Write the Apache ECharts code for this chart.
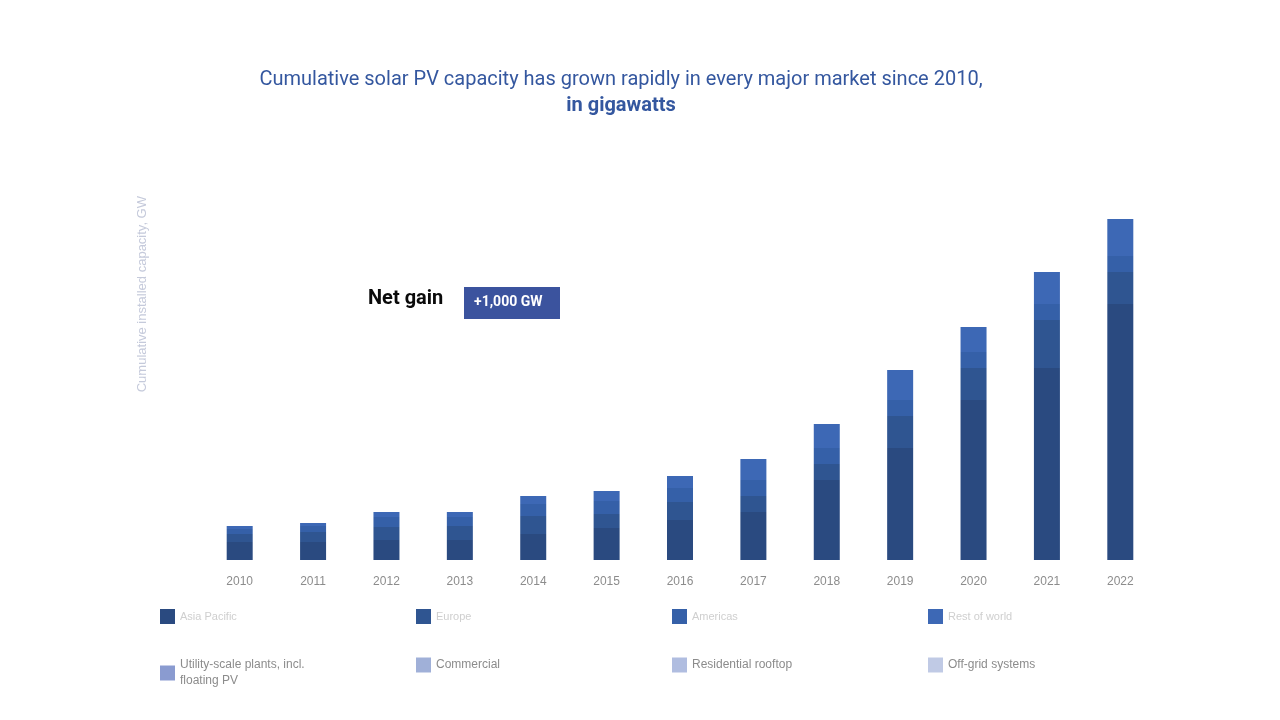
<!DOCTYPE html>
<html>
<head>
<meta charset="utf-8">
<title>Solar PV capacity</title>
<script src="https://cdn.jsdelivr.net/npm/echarts@6/dist/echarts.min.js"></script>
<style>
html, body { margin: 0; padding: 0; background: #fff; }
#charts { width: 1280px; height: 720px; }
</style>
</head>
<body>
<div id="charts"></div>
<script>
var years = ['2010', '2011', '2012', '2013', '2014', '2015', '2016', '2017', '2018', '2019', '2020', '2021', '2022'];

// GW (bottom to top)
var asiaPacific = [54, 54, 60, 60, 78, 96, 120, 144, 240, 336, 480, 576, 768];
var europe = [24, 30, 39, 42, 54, 42, 54, 48, 48, 96, 96, 144, 96];
var americas = [15, 18, 30, 27, 36, 39, 42, 48, 48, 48, 48, 48, 48];
var restOfWorld = [9, 9, 15, 15, 24, 30, 36, 63, 72, 90, 75, 96, 111];

var mainNames = ['Asia Pacific', 'Europe', 'Americas', 'Rest of world'];
var mainColors = ['#2a4a80', '#2f5591', '#3560a8', '#3d68b5'];
var noteNames = ['Utility-scale plants, incl.\nfloating PV', 'Commercial', 'Residential rooftop', 'Off-grid systems'];
var noteColors = ['#8a9bd0', '#a0b0d8', '#b0bde0', '#c0cae5'];

function render() {
    var myChart = echarts.init(document.getElementById('charts'));
    var values = [asiaPacific, europe, americas, restOfWorld];

    var series = [];
    var legends = [];
    for (var i = 0; i < 4; i++) {
        series.push({
            name: mainNames[i],
            type: 'bar',
            stack: 'total',
            barWidth: 26,
            itemStyle: { color: mainColors[i] },
            data: values[i]
        });
        legends.push({
            left: 160 + 256 * i,
            top: 609,
            padding: 0,
            itemWidth: 15,
            itemHeight: 15,
            icon: 'rect',
            textStyle: { color: '#cfcfcf', fontSize: 11 },
            data: [mainNames[i]]
        });
    }
    // legend-only entries, nothing drawn in the bars
    for (var j = 0; j < 4; j++) {
        series.push({
            name: noteNames[j],
            type: 'bar',
            stack: 'total',
            barWidth: 26,
            itemStyle: { color: noteColors[j] },
            data: years.map(function() { return '-'; })
        });
        legends.push({
            left: 160 + 256 * j,
            top: 657,
            padding: 0,
            itemWidth: 15,
            itemHeight: 15,
            icon: 'rect',
            textStyle: { color: '#8c8c8c', fontSize: 12, lineHeight: 16 },
            data: [noteNames[j]]
        });
    }

    var option = {
        animation: false,
        title: {
            text: '{a|Cumulative solar PV capacity has grown rapidly in every major market since 2010,}\n{b|in gigawatts}',
            left: 616,
            textAlign: 'center',
            top: 62,
            textStyle: {
                rich: {
                    a: { color: '#34579f', fontSize: 20, fontWeight: 'normal', fontFamily: 'Roboto', lineHeight: 26 },
                    b: { color: '#34579f', fontSize: 20, fontWeight: 'bold', fontFamily: 'Roboto', lineHeight: 26 }
                }
            }
        },
        legend: legends,
        grid: {
            left: 203,
            right: 123,
            top: 160,
            bottom: 160
        },
        xAxis: {
            type: 'category',
            data: years,
            axisLine: { show: false },
            axisTick: { show: false },
            axisLabel: { color: '#8c8c8c', fontSize: 12, margin: 16 }
        },
        yAxis: {
            type: 'value',
            min: 0,
            max: 1200,
            show: false
        },
        graphic: [{
            type: 'text',
            left: 136,
            top: 196,
            rotation: Math.PI / 2,
            style: { text: 'Cumulative installed capacity, GW', fill: '#c5cadb', fontSize: 13 }
        }, {
            type: 'text',
            left: 368,
            top: 289,
            style: { text: 'Net gain', fill: '#0a0a0a', fontSize: 20, fontWeight: 'bold', fontFamily: 'Roboto' }
        }, {
            type: 'rect',
            left: 464,
            top: 287,
            shape: { width: 96, height: 32 },
            style: { fill: '#3b539e' }
        }, {
            type: 'text',
            left: 474,
            top: 295,
            style: { text: '+1,000 GW', fill: '#ffffff', fontSize: 14, fontWeight: 'bold', fontFamily: 'Roboto' }
        }],
        series: series
    };
    myChart.setOption(option);
}
render();
</script>
</body>
</html>
